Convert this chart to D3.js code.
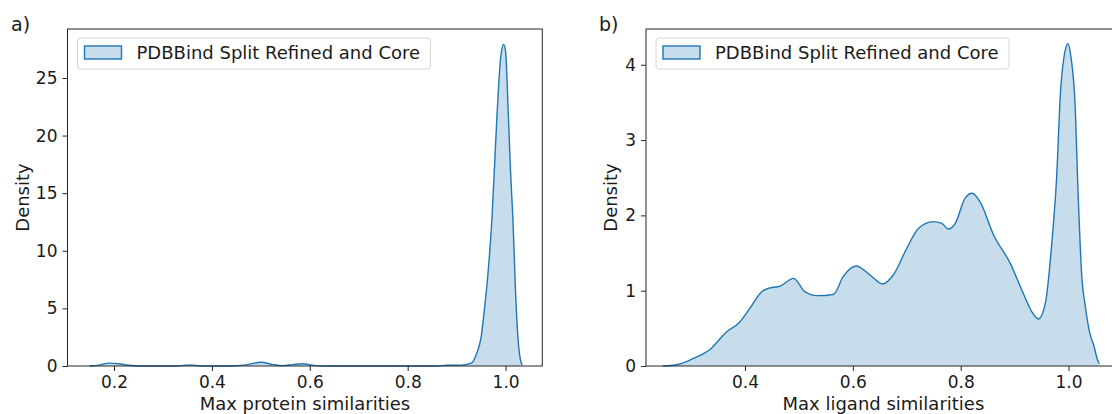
<!DOCTYPE html>
<html>
<head>
<meta charset="utf-8">
<script src="https://cdn.jsdelivr.net/npm/d3@7"></script>
<style>
  html, body { margin: 0; padding: 0; background: #fff; }
  svg { display: block; font-family: "DejaVu Sans", sans-serif; }
</style>
</head>
<body>
<svg id="chart" width="1112" height="414"></svg>
<script>
// ---------- data ----------
const legendLabel = "PDBBind Split Refined and Core";

// panel a: max protein similarities (KDE)
const proteinX = [0.150, 0.170, 0.190, 0.210, 0.230, 0.250, 0.330, 0.355, 0.380, 0.440, 0.470, 0.500, 0.525, 0.545, 0.565, 0.585, 0.605, 0.630, 0.860, 0.880, 0.910, 0.930, 0.941, 0.950, 0.957, 0.965, 0.972, 0.982, 0.990, 0.996, 1.000, 1.005, 1.010, 1.015, 1.020, 1.025, 1.030, 1.034];
const proteinY = [0.00, 0.08, 0.25, 0.20, 0.06, 0.00, 0.00, 0.10, 0.00, 0.00, 0.10, 0.33, 0.12, 0.03, 0.12, 0.20, 0.08, 0.00, 0.00, 0.06, 0.08, 0.25, 1.10, 2.50, 5.00, 8.50, 12.7, 21.4, 26.8, 27.9, 27.3, 22.5, 17.0, 12.7, 6.80, 2.60, 0.60, 0.10];

// panel b: max ligand similarities (KDE)
const ligandX = [0.248, 0.279, 0.304, 0.335, 0.366, 0.388, 0.409, 0.431, 0.443, 0.465, 0.490, 0.511, 0.533, 0.564, 0.582, 0.606, 0.632, 0.655, 0.675, 0.700, 0.722, 0.749, 0.765, 0.777, 0.790, 0.808, 0.821, 0.836, 0.861, 0.892, 0.916, 0.932, 0.944, 0.957, 0.969, 0.978, 0.985, 0.992, 0.999, 1.005, 1.012, 1.018, 1.025, 1.031, 1.039, 1.047, 1.053, 1.057];
const ligandY = [0.00, 0.027, 0.10, 0.22, 0.456, 0.567, 0.766, 0.987, 1.03, 1.06, 1.164, 0.987, 0.934, 0.95, 1.186, 1.328, 1.208, 1.089, 1.208, 1.563, 1.828, 1.917, 1.895, 1.819, 1.895, 2.227, 2.293, 2.18, 1.74, 1.363, 0.965, 0.72, 0.624, 0.832, 1.63, 2.51, 3.62, 4.12, 4.28, 4.08, 3.50, 2.25, 1.15, 0.80, 0.45, 0.27, 0.10, 0.03];

const proteinXTicks = [0.2, 0.4, 0.6, 0.8, 1.0];
const proteinYTicks = [0, 5, 10, 15, 20, 25];
const ligandXTicks = [0.4, 0.6, 0.8, 1.0];
const ligandYTicks = [0, 1, 2, 3, 4];

// ---------- drawing ----------
const svg = d3.select("#chart");
const lineColor = "#1f77b4";
const fillColor = "rgba(31,119,180,0.25)";
const spineColor = "#262626";

const panels = [
  { label: "a)", labelX: 11, xs: proteinX, ys: proteinY, xDomain: [0.105, 1.075], yDomain: [0, 29.25],
    left: 67.5, xTicks: proteinXTicks, yTicks: proteinYTicks, xTitle: "Max protein similarities", yTitleX: 29 },
  { label: "b)", labelX: 599, xs: ligandX, ys: ligandY, xDomain: [0.2163, 1.097], yDomain: [0, 4.475],
    left: 646, xTicks: ligandXTicks, yTicks: ligandYTicks, xTitle: "Max ligand similarities", yTitleX: 617 }
];

const plotTop = 29, plotBottom = 366, plotWidth = 474.8;

panels.forEach(p => {
  const x = d3.scaleLinear().domain(p.xDomain).range([p.left, p.left + plotWidth]);
  const y = d3.scaleLinear().domain(p.yDomain).range([plotBottom, plotTop]);
  const g = svg.append("g");
  const pts = p.xs.map((v, i) => [v, p.ys[i]]);

  // filled density
  g.append("path")
    .datum(pts)
    .attr("fill", fillColor)
    .attr("stroke", "none")
    .attr("d", d3.area().x(d => x(d[0])).y0(y(0)).y1(d => y(d[1])).curve(d3.curveMonotoneX));
  g.append("path")
    .datum(pts)
    .attr("fill", "none")
    .attr("stroke", lineColor)
    .attr("stroke-width", 1.4)
    .attr("d", d3.line().x(d => x(d[0])).y(d => y(d[1])).curve(d3.curveMonotoneX));

  // axes
  const xAxis = d3.axisBottom(x).tickValues(p.xTicks).tickFormat(d3.format(".1f")).tickSize(5).tickPadding(5);
  const yAxis = d3.axisLeft(y).tickValues(p.yTicks).tickFormat(d3.format("d")).tickSize(5).tickPadding(5);
  const gx = g.append("g").attr("transform", `translate(0,${plotBottom})`).call(xAxis);
  const gy = g.append("g").attr("transform", `translate(${p.left},0)`).call(yAxis);
  [gx, gy].forEach(a => {
    a.select(".domain").remove();
    a.selectAll(".tick line").attr("stroke", spineColor).attr("stroke-width", 1);
    a.selectAll(".tick text").attr("fill", "#1a1a1a").style("font-size", "17px").style("font-family", "DejaVu Sans");
  });

  // spines
  g.append("rect")
    .attr("x", p.left).attr("y", plotTop)
    .attr("width", plotWidth).attr("height", plotBottom - plotTop)
    .attr("fill", "none").attr("stroke", spineColor).attr("stroke-width", 1);

  // axis titles
  g.append("text")
    .attr("x", p.left + plotWidth / 2).attr("y", 410)
    .attr("text-anchor", "middle")
    .style("font-size", "18px").attr("fill", "#1a1a1a")
    .text(p.xTitle);
  g.append("text")
    .attr("transform", `translate(${p.yTitleX},${(plotTop + plotBottom) / 2}) rotate(-90)`)
    .attr("text-anchor", "middle")
    .style("font-size", "18px").attr("fill", "#1a1a1a")
    .text("Density");

  // panel label
  g.append("text")
    .attr("x", p.labelX).attr("y", 30.5)
    .style("font-size", "19px").attr("fill", "#1a1a1a")
    .text(p.label);

  // legend
  const lx = p.left + 10, ly = 38;
  const lg = g.append("g");
  lg.append("rect")
    .attr("x", lx).attr("y", ly).attr("width", 353).attr("height", 31)
    .attr("rx", 3).attr("ry", 3)
    .attr("fill", "rgba(255,255,255,0.8)").attr("stroke", "#d6d6d6").attr("stroke-width", 1);
  lg.append("rect")
    .attr("x", lx + 7).attr("y", ly + 8).attr("width", 37).attr("height", 13)
    .attr("fill", fillColor).attr("stroke", lineColor).attr("stroke-width", 1.4);
  lg.append("text")
    .attr("x", lx + 59).attr("y", ly + 21)
    .style("font-size", "18px").attr("fill", "#1a1a1a")
    .text(legendLabel);
});
</script>
</body>
</html>
